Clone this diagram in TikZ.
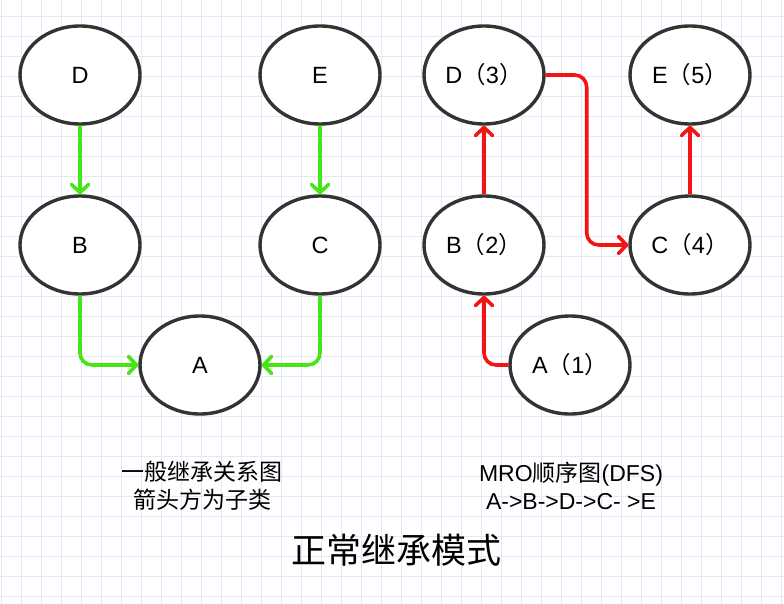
\documentclass[tikz,border=0pt]{standalone}
\usepackage{fontspec}
\setmainfont{Liberation Sans}
\newfontfamily\cjk{Noto Sans CJK SC}
\usetikzlibrary{arrows.meta,shapes.geometric}

\begin{document}
\begin{tikzpicture}[
  x=1pt,
  y=-1pt,
  cls/.style={ellipse,draw=black!80,fill=white,line width=3.4pt,
    minimum width=120pt,minimum height=98pt,inner sep=0pt,
    font=\fontsize{23.5}{28}\selectfont},
  edge/.style={line width=3.6pt,rounded corners=12pt,
    -{Straight Barb[length=8pt,width=17pt,round]}},
  caption/.style={align=center,font=\fontsize{23}{28}\selectfont},
  gridline/.style={line width=1.3pt,draw=figgrid}
]
\definecolor{figgrid}{RGB}{230,230,250}
\definecolor{figgreen}{RGB}{70,230,20}
\definecolor{figred}{RGB}{245,20,20}

\useasboundingbox (0,0) rectangle (784,604);
\fill[white] (0,0) rectangle (784,604);

% Background grid paper.
\foreach \gx in {0,20,...,780} \draw[gridline] (\gx+1.7,0) -- (\gx+1.7,604);
\foreach \gy in {20,40,...,600} \draw[gridline] (0,\gy-3.3) -- (784,\gy-3.3);

% Left: ordinary inheritance, arrows point to the subclass.
\node[cls] (D) at (80,75)   {D};
\node[cls] (E) at (320,75)  {E};
\node[cls] (B) at (80,245)  {B};
\node[cls] (C) at (320,245) {C};
\node[cls] (A) at (200,365) {A};

\draw[edge, figgreen] (D) -- (B);
\draw[edge, figgreen] (E) -- (C);
\draw[edge, figgreen] (B.south) |- (A.west);
\draw[edge, figgreen] (C.south) |- (A.east);

% Right: depth-first MRO order.
\node[cls] (D3) at (484,75)  {D{\cjk （}3{\cjk ）}};
\node[cls] (E5) at (690,75)  {E{\cjk （}5{\cjk ）}};
\node[cls] (B2) at (484,245) {B{\cjk （}2{\cjk ）}};
\node[cls] (C4) at (690,245) {C{\cjk （}4{\cjk ）}};
\node[cls] (A1) at (570,365) {A{\cjk （}1{\cjk ）}};

\draw[edge, figred] (A1.west) -| (B2.south);
\draw[edge, figred] (B2) -- (D3);
\draw[edge, figred] (D3.east) -- ++(41,0) |- (C4.west);
\draw[edge, figred] (C4) -- (E5);

% Captions.
\node[caption] (leftcap) at (202,486) {{\cjk 一般继承关系图}\\{\cjk 箭头方为子类}};
\node[caption] (rightcap) at (571,486) {MRO{\cjk 顺序图}(DFS)\\A->B->D->C- >E};
\node[font=\cjk\fontsize{35}{40}\selectfont] (title) at (396,550) {正常继承模式};
\end{tikzpicture}
\end{document}
